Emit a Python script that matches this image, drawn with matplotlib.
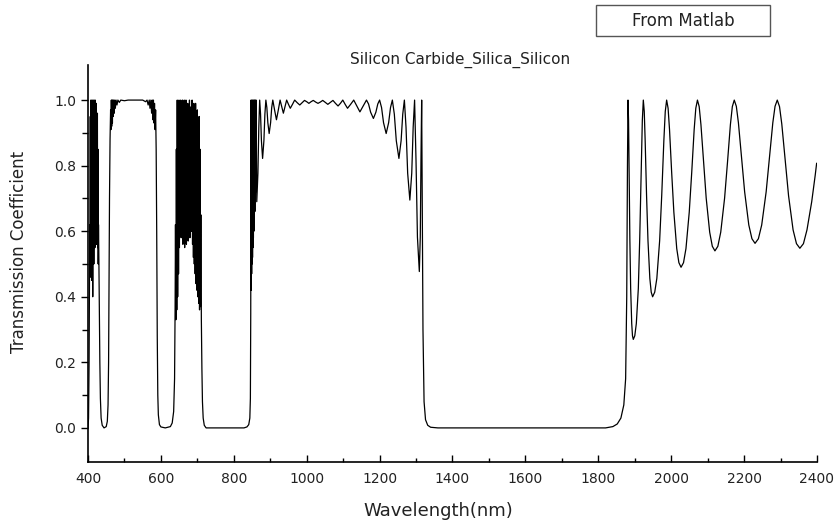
import matplotlib.pyplot as plt
import numpy as np
from matplotlib.patches import Rectangle

plt.rcParams['font.family'] = ['DejaVu Sans']

# (wavelength nm, transmission), segment by segment
band_a = [(400, 0.0), (401.5, 0.03), (403, 0.2), (404, 0.45), (404.8, 0.62), (405.5, 0.48),
          (406.3, 0.95), (407, 0.46), (407.8, 1.0), (408.5, 0.50), (409.3, 0.97), (410, 0.45),
          (410.8, 1.0), (411.5, 0.52), (412.3, 0.99), (413, 0.40), (413.8, 1.0), (414.5, 0.55),
          (415.3, 0.96), (416, 0.50), (416.8, 1.0), (417.5, 0.56), (418.3, 0.98), (419, 0.55),
          (419.8, 1.0), (420.5, 0.57), (421.3, 0.95), (422, 0.56), (422.8, 0.99), (423.5, 0.58),
          (424.3, 0.93), (425, 0.56), (425.8, 0.96), (426.5, 0.55), (427.3, 0.85), (428, 0.50),
          (428.8, 0.62), (429.8, 0.52), (431, 0.36), (432.5, 0.2), (434, 0.09), (436, 0.03),
          (439, 0.008), (444, 0.0), (450, 0.004), (453, 0.02), (455, 0.07), (456.5, 0.2),
          (457.8, 0.45), (459, 0.7), (460.5, 0.88)]

plateau = [(462, 0.97), (463, 0.91), (464, 1.0), (465, 0.92), (466, 1.0), (467, 0.93),
           (468, 1.0), (469, 0.95), (470.5, 1.0), (472, 0.96), (473.5, 1.0), (475, 0.975),
           (477, 1.0), (479.5, 0.985), (482, 1.0), (486, 0.993), (490, 1.0), (500, 0.998),
           (510, 1.0), (530, 1.0), (550, 1.0), (558, 0.995), (562, 1.0), (565, 0.985),
           (568, 1.0), (570, 0.975), (572.5, 1.0), (574.5, 0.96), (576.5, 1.0), (578, 0.94),
           (579.5, 1.0), (581, 0.93), (582.5, 0.99), (584, 0.91), (585.5, 0.97), (587, 0.85),
           (588.5, 0.6), (590, 0.28), (591.5, 0.1), (593, 0.04), (596, 0.01), (600, 0.003),
           (612, 0.0), (626, 0.004), (631, 0.015), (635, 0.05), (637.5, 0.15), (639, 0.37)]

band_b = [(640.0, 0.62), (641.2, 0.33), (642.4, 0.85), (643.6, 0.36), (644.8, 1.00), (646.0, 0.40),
          (647.2, 0.96), (648.4, 0.47), (649.6, 1.00), (650.8, 0.55), (652.0, 0.93), (653.2, 0.60),
          (654.4, 1.00), (655.6, 0.58), (656.8, 0.97), (658.0, 0.62), (659.2, 1.00), (660.4, 0.56),
          (661.6, 0.92), (662.8, 0.60), (664.0, 1.00), (665.2, 0.55), (666.4, 0.95), (667.6, 0.58),
          (668.8, 1.00), (670.0, 0.56), (671.2, 0.90), (672.4, 0.60), (673.6, 0.99), (674.8, 0.57),
          (676.0, 0.94), (677.2, 0.61), (678.4, 1.00), (679.6, 0.58), (680.8, 0.88), (682.0, 0.62),
          (683.2, 0.98), (684.4, 0.60), (685.6, 1.00), (686.8, 0.56), (688.0, 0.93), (689.2, 0.52),
          (690.4, 0.99), (691.6, 0.50), (692.8, 0.94), (694.0, 0.47), (695.2, 0.99), (696.4, 0.44),
          (697.6, 0.95), (698.8, 0.42), (700.0, 0.97), (701.2, 0.40), (702.4, 0.93), (703.6, 0.38),
          (704.8, 0.95), (706.0, 0.36), (707.2, 0.85), (708.4, 0.37), (709.6, 0.65), (711.0, 0.33),
          (712.5, 0.18), (714.0, 0.08), (716.0, 0.03), (719.0, 0.008), (724.0, 0.0)]

band_c = [(828, 0.0), (836, 0.003), (841, 0.01), (844, 0.03), (845.5, 0.09), (846.5, 0.35),
          (847.2, 1.0), (847.8, 0.42), (848.4, 0.97), (849, 0.47), (849.6, 1.0), (850.2, 0.50),
          (850.8, 0.99), (851.4, 0.52), (852, 1.0), (852.6, 0.55), (853.2, 0.98), (853.8, 0.58),
          (854.4, 1.0), (855, 0.60), (855.6, 0.99), (856.3, 0.63), (857, 1.0), (857.8, 0.66),
          (858.8, 1.0), (860, 0.72), (861.2, 1.0)]

ripples = [(863, 0.69), (866.2, 0.777), (868.6, 0.917), (871, 1.0), (873.4, 0.957),
           (875.8, 0.876), (879, 0.822), (882.6, 0.876), (885.3, 0.957), (888, 1.0),
           (890.7, 0.977), (893.4, 0.931), (897, 0.898), (901, 0.931), (904, 0.977), (907, 1.0),
           (912, 0.969), (917, 0.94), (922, 0.969), (927, 1.0), (931.5, 0.98), (936, 0.96),
           (940.5, 0.98), (945, 1.0), (950, 0.987), (955, 0.975), (961, 0.987), (967, 1.0),
           (974, 0.992), (981, 0.985), (987.5, 0.992), (994, 0.999), (1000, 0.995), (1006, 0.99),
           (1012, 0.995), (1018, 0.999), (1024.5, 0.994), (1031, 0.99), (1037.5, 0.994),
           (1044, 0.999), (1051, 0.993), (1058, 0.987), (1065, 0.993), (1072, 0.999), (1079, 0.99),
           (1086, 0.982), (1092.5, 0.99), (1099, 1.0), (1105.5, 0.987), (1112, 0.975),
           (1120.5, 0.987), (1129, 1.0), (1137.5, 0.982), (1146, 0.964), (1155, 0.982),
           (1164, 1.0), (1169.7, 0.988), (1175.4, 0.963), (1183, 0.944), (1189.8, 0.963),
           (1195, 0.988), (1200, 1.0), (1205.4, 0.977), (1210.8, 0.931), (1218, 0.898),
           (1224.8, 0.931), (1229.9, 0.977), (1235, 1.0), (1240.4, 0.957), (1245.8, 0.876),
           (1253, 0.822), (1259, 0.876), (1263.5, 0.957), (1268, 1.0), (1272.5, 0.917),
           (1277, 0.777), (1283, 0.695), (1288.2, 0.777), (1292.1, 0.917), (1296, 1.0),
           (1299.9, 0.816), (1303.8, 0.582), (1309, 0.477), (1311.6, 0.582), (1313.5, 0.816),
           (1315.4, 1.0), (1317, 0.7), (1319, 0.3), (1322, 0.08), (1326, 0.025), (1332, 0.008),
           (1340, 0.002), (1360, 0.0)]

resonances = [(1820, 0.0), (1840, 0.004), (1852, 0.012), (1862, 0.03), (1870, 0.07), (1875, 0.15),
              (1878, 0.4), (1880, 0.8), (1881.5, 1.0), (1883, 0.938), (1884.4, 0.795),
              (1886.6, 0.575), (1888.8, 0.425), (1891.7, 0.318), (1893.8, 0.281), (1896, 0.27),
              (1900.1, 0.281), (1904.3, 0.318), (1909.8, 0.425), (1913.6, 0.575), (1918, 0.795),
              (1920.8, 0.938), (1923.5, 1.0), (1926.1, 0.965), (1928.6, 0.875), (1932.4, 0.709),
              (1936.3, 0.571), (1941.4, 0.456), (1945.2, 0.414), (1949, 0.40), (1954.8, 0.414),
              (1960.6, 0.456), (1968.3, 0.571), (1974, 0.709), (1979.8, 0.875), (1983.7, 0.965),
              (1987.5, 1.0), (1991.5, 0.975), (1995.4, 0.910), (2001.3, 0.779), (2007.3, 0.658),
              (2015.2, 0.547), (2021.1, 0.504), (2027, 0.49), (2033.8, 0.504), (2040.5, 0.547),
              (2049.5, 0.658), (2056.3, 0.779), (2063, 0.910), (2067.5, 0.975), (2072, 1.0),
              (2076.8, 0.98), (2081.6, 0.925), (2088.8, 0.811), (2096, 0.701), (2105.6, 0.597),
              (2112.8, 0.554), (2120, 0.54), (2128, 0.554), (2135.9, 0.597), (2146.5, 0.701),
              (2154.5, 0.811), (2162.4, 0.925), (2167.7, 0.98), (2173, 1.0), (2178.7, 0.981),
              (2184.4, 0.931), (2193, 0.825), (2201.5, 0.720), (2212.9, 0.619), (2221.5, 0.577),
              (2230, 0.563), (2239.2, 0.577), (2248.3, 0.619), (2260.5, 0.720), (2269.7, 0.825),
              (2278.8, 0.931), (2284.9, 0.981), (2291, 1.0), (2297.2, 0.98), (2303.4, 0.927),
              (2312.7, 0.816), (2322, 0.708), (2334.4, 0.604), (2343.7, 0.562), (2353, 0.548),
              (2362.8, 0.562), (2372.5, 0.604), (2385.5, 0.69), (2395, 0.77), (2399, 0.807)]

spectrum = np.array(band_a + plateau + band_b + band_c + ripples + resonances)
wl, trans = spectrum[:, 0], spectrum[:, 1]

fig = plt.figure(figsize=(8.36, 5.22), dpi=100)
ax = fig.add_axes([0.10526, 0.11494, 0.87201, 0.76054])
ax.plot(wl, trans, color='black', linewidth=0.9)

ax.set_xlim(400, 2400)
ax.set_ylim(-0.104, 1.107)
ax.set_xticks(np.arange(400, 2401, 200))
ax.set_xticks(np.arange(500, 2400, 200), minor=True)
ax.set_yticks(np.arange(0, 1.01, 0.2))
ax.set_yticks(np.arange(0.1, 1.0, 0.2), minor=True)
ax.yaxis.set_major_formatter(plt.FormatStrFormatter('%.1f'))

ax.spines['right'].set_color('none')
ax.spines['top'].set_color('none')
for s in ('left', 'bottom'):
    ax.spines[s].set_linewidth(1.2)
ax.tick_params(axis='x', which='major', direction='in', length=5, width=1, labelsize=10,
               labelcolor='#222222', pad=7)
ax.tick_params(axis='x', which='minor', direction='in', length=3, width=1)
ax.tick_params(axis='y', which='major', direction='out', length=5, width=1, labelsize=10,
               labelcolor='#222222')
ax.tick_params(axis='y', which='minor', direction='out', length=4, width=1)

ax.set_xlabel('Wavelength(nm)', fontsize=13, color='#222222')
ax.xaxis.set_label_coords(0.481, -0.101)
ax.set_ylabel('Transmission Coefficient', fontsize=12, color='#222222')
ax.yaxis.set_label_coords(-0.082, 0.529)

fig.text(460 / 836, 1 - 60 / 522, 'Silicon Carbide_Silica_Silicon', ha='center', va='center',
         fontsize=11, color='#222222')

fig.patches.append(Rectangle((596 / 836, 1 - 36 / 522), 174 / 836, 31 / 522,
                             transform=fig.transFigure, facecolor='white',
                             edgecolor='#555555', linewidth=1))
fig.text(683 / 836, 1 - 20.5 / 522, 'From Matlab', ha='center', va='center',
         fontsize=12, color='#222222')

fig.savefig('out.png', dpi=100)
